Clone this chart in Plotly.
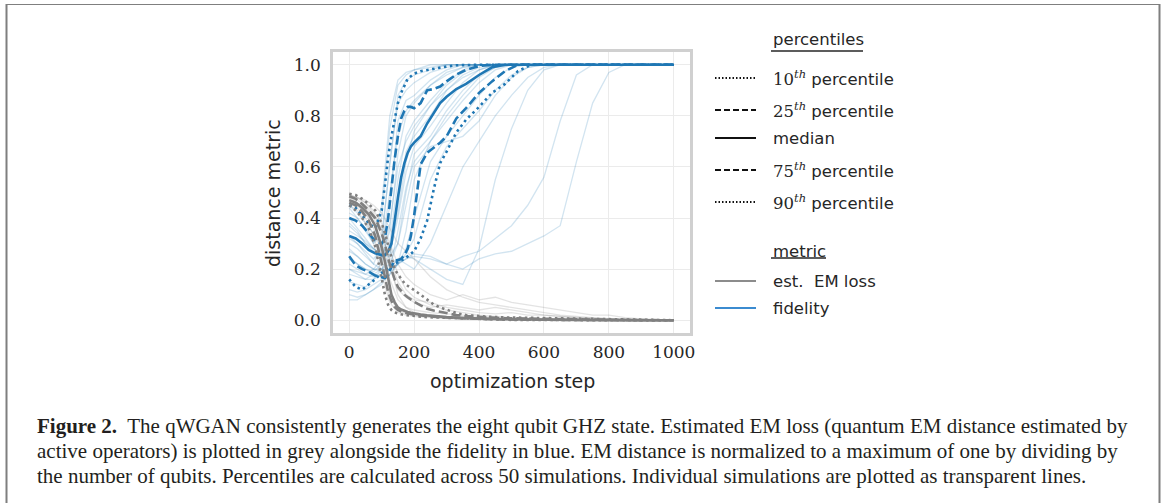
import plotly.graph_objects as go

# ---------------- data ----------------
# grid for individual simulations
steps_ind = [0, 25, 50, 75, 100, 125, 150, 175, 200, 250, 300, 350, 400, 450, 500, 550, 600, 650, 700, 750, 800, 850, 900, 1000]

fid_runs = [
    [.45,.42,.38,.34,.40,.75,.92,.96,.98,.99,1,1,1,1,1,1,1,1,1,1,1,1,1,1],
    [.30,.28,.25,.22,.30,.62,.85,.90,.93,.97,.99,1,1,1,1,1,1,1,1,1,1,1,1,1],
    [.38,.35,.30,.28,.26,.45,.78,.86,.88,.94,.98,1,1,1,1,1,1,1,1,1,1,1,1,1],
    [.22,.20,.18,.20,.24,.35,.65,.80,.85,.92,.97,.99,1,1,1,1,1,1,1,1,1,1,1,1],
    [.35,.33,.31,.28,.26,.30,.55,.72,.78,.86,.93,.98,1,1,1,1,1,1,1,1,1,1,1,1],
    [.28,.25,.22,.20,.20,.24,.45,.66,.72,.80,.90,.96,.99,1,1,1,1,1,1,1,1,1,1,1],
    [.15,.14,.13,.16,.20,.26,.40,.58,.68,.76,.85,.93,.98,1,1,1,1,1,1,1,1,1,1,1],
    [.40,.36,.32,.28,.25,.25,.30,.50,.65,.72,.82,.90,.96,.99,1,1,1,1,1,1,1,1,1,1],
    [.25,.22,.20,.18,.17,.18,.22,.35,.55,.70,.78,.86,.93,.98,1,1,1,1,1,1,1,1,1,1],
    [.10,.09,.10,.12,.15,.18,.22,.28,.40,.62,.72,.80,.88,.95,.99,1,1,1,1,1,1,1,1,1],
    [.32,.30,.26,.22,.20,.20,.22,.26,.32,.55,.68,.75,.82,.90,.96,.99,1,1,1,1,1,1,1,1],
    [.20,.18,.16,.18,.20,.22,.24,.25,.24,.20,.16,.14,.28,.55,.75,.90,.98,1,1,1,1,1,1,1],
    [.18,.17,.16,.16,.18,.20,.22,.24,.25,.24,.22,.20,.24,.26,.27,.30,.33,.37,.62,.85,.97,1,1,1],
    [.27,.25,.22,.20,.19,.20,.22,.24,.26,.25,.22,.25,.27,.32,.37,.45,.56,.78,.96,1,1,1,1,1],
    [.12,.11,.12,.14,.16,.20,.24,.22,.20,.30,.45,.60,.70,.80,.88,.95,.99,1,1,1,1,1,1,1],
    [.42,.40,.36,.30,.45,.80,.94,.97,.98,1,1,1,1,1,1,1,1,1,1,1,1,1,1,1],
    [.33,.30,.27,.24,.28,.50,.72,.82,.86,.92,.96,.99,1,1,1,1,1,1,1,1,1,1,1,1],
    [.24,.22,.20,.19,.22,.38,.60,.70,.76,.84,.90,.95,.98,1,1,1,1,1,1,1,1,1,1,1],
    [.08,.08,.10,.12,.14,.20,.35,.52,.62,.70,.80,.88,.95,.99,1,1,1,1,1,1,1,1,1,1],
    [.37,.34,.30,.27,.25,.28,.42,.62,.74,.84,.92,.97,1,1,1,1,1,1,1,1,1,1,1,1],
    [.44,.40,.35,.30,.33,.60,.88,.94,.96,.98,1,1,1,1,1,1,1,1,1,1,1,1,1,1],
    [.20,.19,.18,.17,.18,.22,.30,.45,.60,.68,.70,.72,.78,.88,.95,.99,1,1,1,1,1,1,1,1],
]

em_runs = [
    [.49,.48,.46,.42,.35,.22,.10,.05,.03,.02,.015,.01,.008,.006,.004,.003,.002,.001,0,0,0,0,0,0],
    [.47,.45,.42,.36,.26,.12,.05,.03,.02,.015,.01,.008,.006,.004,.003,.002,.001,0,0,0,0,0,0,0],
    [.46,.44,.40,.33,.22,.09,.04,.025,.02,.012,.008,.006,.004,.003,.002,.001,0,0,0,0,0,0,0,0],
    [.48,.47,.45,.41,.36,.28,.18,.12,.09,.06,.04,.03,.02,.015,.01,.008,.006,.004,.002,.001,0,0,0,0],
    [.49,.48,.46,.43,.38,.30,.22,.17,.14,.10,.08,.10,.08,.09,.07,.06,.05,.04,.03,.02,.02,.01,.005,0],
    [.45,.43,.38,.30,.18,.07,.03,.02,.015,.01,.006,.004,.003,.002,.001,0,0,0,0,0,0,0,0,0],
    [.48,.46,.43,.38,.30,.20,.12,.09,.07,.05,.06,.05,.04,.05,.04,.03,.02,.015,.01,.006,.003,.001,0,0],
    [.47,.46,.44,.40,.33,.24,.15,.10,.08,.07,.05,.04,.03,.025,.03,.02,.02,.015,.01,.008,.006,.004,.002,0],
    [.49,.48,.47,.45,.42,.36,.30,.27,.24,.17,.12,.09,.07,.06,.05,.04,.03,.02,.015,.01,.005,.003,.001,0],
    [.46,.45,.42,.38,.30,.16,.08,.05,.04,.03,.025,.02,.015,.01,.008,.006,.004,.003,.002,.001,0,0,0,0],
]

# grid for percentiles
steps_pct = [0, 20, 40, 60, 80, 100, 110, 120, 130, 140, 150, 160, 170, 180, 190, 200,
             220, 240, 260, 280, 300, 330, 360, 400, 440, 480, 520, 560, 600, 700, 800, 900, 1000]

fid_p10 = [.16,.13,.12,.14,.16,.185,.195,.205,.215,.222,.228,.234,.24,.25,.26,.27,
           .32,.39,.51,.615,.66,.735,.785,.835,.89,.925,.975,1,1,1,1,1,1]
fid_p25 = [.25,.215,.20,.19,.175,.17,.165,.175,.21,.235,.235,.24,.255,.28,.33,.41,
           .61,.655,.675,.695,.72,.79,.83,.89,.935,.975,1,1,1,1,1,1,1]
fid_med = [.33,.32,.30,.275,.262,.255,.255,.27,.30,.40,.48,.56,.615,.655,.68,.695,
           .72,.77,.81,.85,.875,.905,.925,.96,.99,1,1,1,1,1,1,1,1]
fid_p75 = [.40,.39,.37,.34,.31,.30,.32,.40,.52,.63,.72,.79,.82,.835,.835,.83,
           .85,.90,.905,.915,.935,.962,.98,.995,1,1,1,1,1,1,1,1,1]
fid_p90 = [.45,.44,.41,.38,.36,.43,.53,.64,.72,.79,.85,.89,.92,.945,.955,.965,
           .975,.98,.985,.99,.993,.998,1,1,1,1,1,1,1,1,1,1,1]

em_p10 = [.45,.43,.40,.36,.29,.16,.10,.06,.04,.03,.026,.023,.021,.019,.017,.016,
          .014,.012,.011,.01,.009,.007,.006,.004,.003,.002,.001,.001,0,0,0,0,0]
em_p25 = [.46,.45,.425,.39,.33,.23,.17,.11,.075,.052,.04,.034,.03,.027,.024,.022,
          .018,.016,.014,.012,.011,.009,.007,.005,.004,.003,.002,.002,.001,0,0,0,0]
em_med = [.47,.46,.44,.415,.37,.285,.23,.16,.10,.07,.05,.042,.036,.032,.029,.026,
          .022,.019,.016,.014,.012,.01,.008,.006,.005,.004,.003,.003,.002,.001,0,0,0]
em_p75 = [.485,.475,.455,.43,.40,.34,.30,.24,.20,.16,.13,.115,.10,.09,.08,.072,
          .058,.045,.038,.032,.026,.02,.016,.012,.01,.008,.007,.006,.005,.003,.001,0,0]
em_p90 = [.495,.49,.475,.455,.43,.38,.34,.29,.24,.20,.18,.16,.145,.135,.125,.118,
          .10,.08,.062,.05,.04,.028,.02,.016,.013,.011,.01,.009,.008,.005,.003,.001,0]

x_ticks = [0, 200, 400, 600, 800, 1000]
y_ticks = [0.0, 0.2, 0.4, 0.6, 0.8, 1.0]

# ---------------- styles ----------------
BLUE = "#1f77b4"
GREY = "#808080"
BLUE_T = "rgba(31,119,180,0.2)"
GREY_T = "rgba(140,140,140,0.24)"
DOT = "2.5px,3.5px"
DASH = "9px,4px"
SANS = "DejaVu Sans"
SERIF = "DejaVu Serif"
TXT = "#262626"

fig = go.Figure()

for run in fid_runs:
    fig.add_trace(go.Scatter(x=steps_ind, y=run, mode="lines",
                             line=dict(color=BLUE_T, width=1.3), showlegend=False, hoverinfo="skip"))
for run in em_runs:
    fig.add_trace(go.Scatter(x=steps_ind, y=run, mode="lines",
                             line=dict(color=GREY_T, width=1.3), showlegend=False, hoverinfo="skip"))

pct_styles = [(DOT, 2.6), (DASH, 2.6), ("solid", 2.6), (DASH, 2.6), (DOT, 2.6)]
for series, (dash, w) in zip([fid_p10, fid_p25, fid_med, fid_p75, fid_p90], pct_styles):
    fig.add_trace(go.Scatter(x=steps_pct, y=series, mode="lines",
                             line=dict(color=BLUE, width=w, dash=dash), showlegend=False))
for series, (dash, w) in zip([em_p10, em_p25, em_med, em_p75, em_p90], pct_styles):
    fig.add_trace(go.Scatter(x=steps_pct, y=series, mode="lines",
                             line=dict(color=GREY, width=w, dash=dash), showlegend=False))

# ---------------- layout ----------------
W, H = 1165, 503
L, R, T, B = 333, 690, 52, 333


def PX(x):
    return (x - L) / (R - L)


def PY(y):
    return (B - y) / (B - T)


axis_common = dict(showgrid=True, gridcolor="#ebebeb", gridwidth=1, zeroline=False,
                   showline=True, mirror=True, linecolor="#d0d0d0", linewidth=2.5,
                   ticks="outside", tickcolor="rgba(0,0,0,0)",
                   tickfont=dict(family=SERIF, size=17, color=TXT))

fig.update_layout(
    width=W, height=H,
    margin=dict(l=L, r=W - R, t=T, b=H - B, pad=0),
    paper_bgcolor="white", plot_bgcolor="white",
    showlegend=False,
    xaxis=dict(range=[-50, 1050], tickvals=x_ticks, ticktext=[str(v) for v in x_ticks],
               ticklen=2, **axis_common),
    yaxis=dict(range=[-0.05, 1.05], tickvals=y_ticks, ticktext=[f"{v:.1f}" for v in y_ticks],
               ticklen=6, **axis_common),
)

ann = []
shapes = []
# axis titles
ann.append(dict(text="optimization step", x=PX(512), y=PY(381), xref="paper", yref="paper",
                showarrow=False, xanchor="center", yanchor="middle",
                font=dict(family=SANS, size=19, color=TXT)))
ann.append(dict(text="distance metric", x=PX(273), y=PY(193), xref="paper", yref="paper",
                showarrow=False, xanchor="center", yanchor="middle", textangle=-90,
                font=dict(family=SANS, size=19, color=TXT)))

# legend
LEG_FONT = dict(family=SANS, size=16.5, color=TXT)
TX = 771


def leg_text(txt, y):
    ann.append(dict(text=txt, x=PX(TX), y=PY(y), xref="paper", yref="paper", showarrow=False,
                    xanchor="left", yanchor="middle", font=LEG_FONT))


def leg_line(y, color, dash, width=2.2):
    shapes.append(dict(type="line", xref="paper", yref="paper", x0=PX(715), x1=PX(756),
                       y0=PY(y), y1=PY(y), line=dict(color=color, width=width, dash=dash)))


def ordinal(n):
    return f'<span style="font-family:{SERIF}">{n}<sup><i>th</i></sup></span> percentile'


leg_text("percentiles", 40)
shapes.append(dict(type="line", xref="paper", yref="paper", x0=PX(771), x1=PX(863),
                   y0=PY(51), y1=PY(51), line=dict(color=TXT, width=1.3)))
leg_entries = [(ordinal(10), 78, "1.5px,2px"), (ordinal(25), 110, "6px,3px"), ("median", 138, "solid"),
               (ordinal(75), 170, "6px,3px"), (ordinal(90), 202, "1.5px,2px")]
for txt, y, dash in leg_entries:
    leg_text(txt, y)
    leg_line(y, "#111111", dash)

leg_text("metric", 251)
shapes.append(dict(type="line", xref="paper", yref="paper", x0=PX(771), x1=PX(826),
                   y0=PY(258), y1=PY(258), line=dict(color=TXT, width=1.3)))
leg_text("est.  EM loss", 281)
leg_line(281, "#8c8c8c", "solid")
leg_text("fidelity", 308)
leg_line(308, "#3b8bd0", "solid")

# caption
CAP_FONT = dict(family="Liberation Serif", size=21, color="#231f20")
cap_lines = [
    "<b>Figure 2.</b>  The qWGAN consistently generates the eight qubit GHZ state. Estimated EM loss (quantum EM distance estimated by",
    "active operators) is plotted in grey alongside the fidelity in blue. EM distance is normalized to a maximum of one by dividing by",
    "the number of qubits. Percentiles are calculated across 50 simulations. Individual simulations are plotted as transparent lines.",
]
for i, line in enumerate(cap_lines):
    ann.append(dict(text=line, x=PX(35), y=PY(426 + 25 * i), xref="paper", yref="paper",
                    showarrow=False, xanchor="left", yanchor="middle", font=CAP_FONT))

# outer frame
FR = "#7f7f7f"
shapes.append(dict(type="line", xref="paper", yref="paper", x0=PX(6.5), x1=PX(6.5), y0=PY(4), y1=PY(503),
                   line=dict(color=FR, width=2)))
shapes.append(dict(type="line", xref="paper", yref="paper", x0=PX(6), x1=PX(1160), y0=PY(4.5), y1=PY(4.5),
                   line=dict(color=FR, width=1.2)))
shapes.append(dict(type="line", xref="paper", yref="paper", x0=PX(1159.5), x1=PX(1159.5), y0=PY(4), y1=PY(503),
                   line=dict(color=FR, width=2)))

fig.update_layout(annotations=ann, shapes=shapes)
fig.write_html("out.html", config={"displayModeBar": False},
               post_script="document.body.style.margin='0';document.body.style.overflow='hidden';")
